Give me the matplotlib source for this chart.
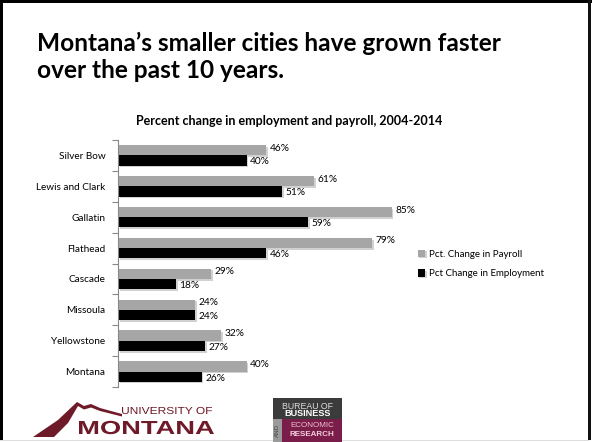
import numpy as np
import matplotlib
matplotlib.use("Agg")
from matplotlib import pyplot as plt
from matplotlib import patches, patheffects
from matplotlib.textpath import TextPath
from matplotlib.font_manager import FontProperties
from matplotlib.transforms import Affine2D

plt.rcParams['font.family'] = ['Lato', 'DejaVu Sans']

# data
counties     = ["Silver Bow", "Lewis and Clark", "Gallatin", "Flathead",
                "Cascade", "Missoula", "Yellowstone", "Montana"]
payroll_pct  = [46, 61, 85, 79, 29, 24, 32, 40]
employ_pct   = [40, 51, 59, 46, 18, 24, 27, 26]
series_names = ["Pct. Change in Payroll", "Pct Change in Employment"]

title_lines  = ["Montana\u2019s smaller cities have grown faster", "over the past 10 years."]
subtitle_txt = "Percent change in employment and payroll, 2004-2014"

W, H = 592, 442
fig = plt.figure(figsize=(W/100, H/100), dpi=100)
fig.patch.set_facecolor("white")

def fx(px):
    return px/W

def fy(py):
    return 1 - py/H

def box(x0, y0, x1, y1, color):
    # rectangle given in pixel coords (y from the top)
    fig.add_artist(patches.Rectangle((fx(x0), fy(y1)), fx(x1) - fx(x0), fy(y0) - fy(y1),
                                     transform=fig.transFigure, color=color, lw=0))

def logo_text(x, y, s, cap_px, width_px, color, weight="bold"):
    # lettering as a path, stretched to the logo's width
    fp  = FontProperties(family="Liberation Sans", weight=weight)
    tp  = TextPath((0, 0), s, size=10, prop=fp)
    ext = tp.get_extents()
    cap = TextPath((0, 0), "H", size=10, prop=fp).get_extents().height
    tr  = (Affine2D().translate(-ext.x0, 0)
           .scale(width_px / ext.width, cap_px / cap)
           .translate(x, H - y).scale(1/W, 1/H))
    fig.add_artist(patches.PathPatch(tr.transform_path(tp), color=color, lw=0,
                                     transform=fig.transFigure))

# slide frame
box(0, 0, 3, 440, "black")
box(0, 0, 592, 3, "black")
box(588, 0, 591, 440, "#111111")
box(0, 439.5, 589, 441, "#dddddd")

# title
fig.text(fx(37), fy(51), title_lines[0], fontsize=17.6, fontweight="bold", ha="left", va="baseline")
fig.text(fx(37), fy(78), title_lines[1], fontsize=17.6, fontweight="bold", ha="left", va="baseline")
fig.text(fx(289), fy(125), subtitle_txt, fontsize=9.0, fontweight="bold", ha="center", va="baseline")

# chart
ax = fig.add_axes([fx(118), fy(387), fx(440)-fx(118), fy(140)-fy(387)])
y = np.arange(len(counties))
bh = 0.33
shadow = [patheffects.SimplePatchShadow(offset=(1.2, -1.2), shadow_rgbFace="#999999", alpha=0.45),
          patheffects.Normal()]
b1 = ax.barh(y - bh/2, payroll_pct, height=bh, color="#a6a6a6", label=series_names[0])
b2 = ax.barh(y + bh/2, employ_pct, height=bh, color="black", label=series_names[1])
for b in list(b1) + list(b2):
    b.set_path_effects(shadow)

for yi, v in zip(y, payroll_pct):
    ax.annotate(f"{v}%", (v, yi - bh/2), xytext=(2.5, 1.5), textcoords="offset points",
                ha="left", va="center", fontsize=7.3)
for yi, v in zip(y, employ_pct):
    ax.annotate(f"{v}%", (v, yi + bh/2), xytext=(2.5, -1), textcoords="offset points",
                ha="left", va="center", fontsize=7.3)

ax.set_xlim(0, 100)
ax.set_ylim(len(counties) - 0.5, -0.5)
ax.set_yticks(np.arange(-0.5, len(counties)), labels=[])
ax.set_yticks(y, labels=counties, minor=True)
ax.tick_params(axis="y", which="major", length=4, color="#888888", width=0.8)
ax.tick_params(axis="y", which="minor", length=0, pad=9, labelsize=7.2)
ax.set_xticks([])
for s in ["top", "right", "bottom"]:
    ax.spines[s].set_visible(False)
ax.spines["left"].set_color("#888888")
ax.spines["left"].set_linewidth(0.8)

ax.legend(loc="center left", bbox_to_anchor=(fx(409), fy(264)), bbox_transform=fig.transFigure,
          frameon=False, fontsize=7, handlelength=0.75, handleheight=0.75, handletextpad=0.4,
          labelspacing=1.1)

# University of Montana logo
um = "#6e1a28"
mountain = [(33, 437), (58, 420), (77, 402), (84, 406), (91, 404), (100, 408), (122, 414),
            (122, 416.5), (100, 411), (91, 407.5), (84, 409.5), (78, 406), (68, 423), (54, 437)]
fig.add_artist(patches.Polygon([(fx(a), fy(b)) for a, b in mountain], closed=True,
                               transform=fig.transFigure, color=um, lw=0))
logo_text(122, 414, "UNIVERSITY OF", 7, 90, um, weight="normal")
logo_text(79, 434, "MONTANA", 13, 135, um)

# BBER logo
box(273, 398, 342, 442, "#3b3b3b")
box(273, 419, 282, 442, "#9a9a9a")
box(282, 419, 342, 442, "#7a1d48")
fig.text(fx(307.5), fy(406.5), "BUREAU OF", fontsize=6.3, color="#dddddd", ha="center", va="center",
         family=["Liberation Sans"])
fig.text(fx(307.5), fy(414), "BUSINESS", fontsize=6.6, fontweight="bold", color="white", ha="center",
         va="center", family=["Liberation Sans"])
fig.text(fx(277.5), fy(430), "AND", fontsize=4.5, color="#444444", ha="center", va="center",
         rotation=90, family=["Liberation Sans"])
fig.text(fx(312), fy(425.5), "ECONOMIC", fontsize=5.8, color="#f0c0d8", ha="center", va="center",
         family=["Liberation Sans"])
fig.text(fx(312), fy(434.5), "RESEARCH", fontsize=5.8, fontweight="bold", color="#f4d0e0", ha="center",
         va="center", family=["Liberation Sans"])

fig.savefig("out.png", dpi=100)
